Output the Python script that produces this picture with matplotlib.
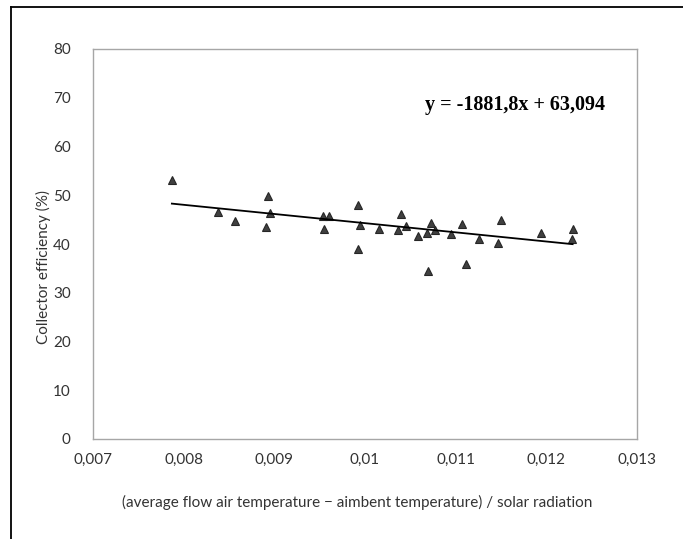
import matplotlib
matplotlib.use("Agg")
import matplotlib.pyplot as plt
from matplotlib.lines import Line2D
import numpy as np

# ratio (ΔT / G) и КПД коллектора, %
ratio = [0.00787, 0.00838, 0.00857, 0.00893, 0.00895, 0.00891,
         0.00954, 0.0096, 0.00955, 0.00992, 0.00992, 0.00995,
         0.01015, 0.01036, 0.0104, 0.01045, 0.01058, 0.01068,
         0.01073, 0.01077, 0.01069, 0.01095, 0.01107, 0.01111,
         0.01126, 0.0115, 0.01147, 0.01194, 0.01229, 0.01228]
efficiency = [53.1, 46.6, 44.7, 49.9, 46.4, 43.4,
              45.8, 45.7, 43.1, 48.1, 38.9, 44.0,
              43.1, 42.9, 46.1, 43.6, 41.7, 42.3,
              44.3, 42.9, 34.4, 42.0, 44.2, 36.0,
              41.1, 45.0, 40.3, 42.2, 43.1, 41.0]

# линейный тренд из подписи графика
slope = -1881.8
intercept = 63.094

x_ticks = [0.007, 0.008, 0.009, 0.010, 0.011, 0.012, 0.013]
x_labels = ["0,007", "0,008", "0,009", "0,01", "0,011", "0,012", "0,013"]
y_ticks = [0, 10, 20, 30, 40, 50, 60, 70, 80]

W, H = 683, 539
fig = plt.figure(figsize=(W / 100, H / 100), dpi=100)
fig.patch.set_facecolor("white")

# область построения в пикселях: x 93..637, y 49..439
ax = fig.add_axes([93 / W, 1 - 439 / H, (637 - 93) / W, (439 - 49) / H])
ax.set_xlim(0.007, 0.013)
ax.set_ylim(0, 80)

font = "Lato"
txt_color = "#333333"
ax.set_xticks(x_ticks)
ax.set_xticklabels(x_labels, fontname=font, fontsize=11, color=txt_color)
ax.set_yticks(y_ticks)
ax.set_yticklabels([str(v) for v in y_ticks], fontname=font, fontsize=11, color=txt_color)
ax.tick_params(length=0, pad=10)
ax.tick_params(axis="y", pad=16)

for s in ax.spines.values():
    s.set_color("#a6a6a6")
    s.set_linewidth(1.0)

ax.plot(ratio, efficiency, linestyle="none", marker="^", markersize=5.5,
        markerfacecolor="#404040", markeredgecolor="#262626", markeredgewidth=0.8)

xt = np.array([min(ratio), max(ratio)])
ax.plot(xt, slope * xt + intercept, color="black", linewidth=1.3)

fig.text(515 / W, 1 - 105 / H, "y = -1881,8x + 63,094", ha="center", va="center",
         fontname="Liberation Serif", fontweight="bold", fontsize=14.5, color="black")

fig.text(43 / W, 1 - 267 / H, "Collector efficiency (%)", rotation=90,
         ha="center", va="center", fontname=font, fontsize=11, color=txt_color)
fig.text(357 / W, 1 - 502 / H,
         "(average flow air temperature \u2212 aimbent temperature) / solar radiation",
         ha="center", va="center", fontname=font, fontsize=11, color=txt_color)

# внешняя чёрная рамка (слева и сверху)
fig.add_artist(Line2D([11 / W, 11 / W], [0, 1 - 7 / H], transform=fig.transFigure,
                      color="black", linewidth=1.3))
fig.add_artist(Line2D([11 / W, 1], [1 - 7 / H, 1 - 7 / H], transform=fig.transFigure,
                      color="black", linewidth=1.3))

fig.savefig("out.png", dpi=100, facecolor="white")
